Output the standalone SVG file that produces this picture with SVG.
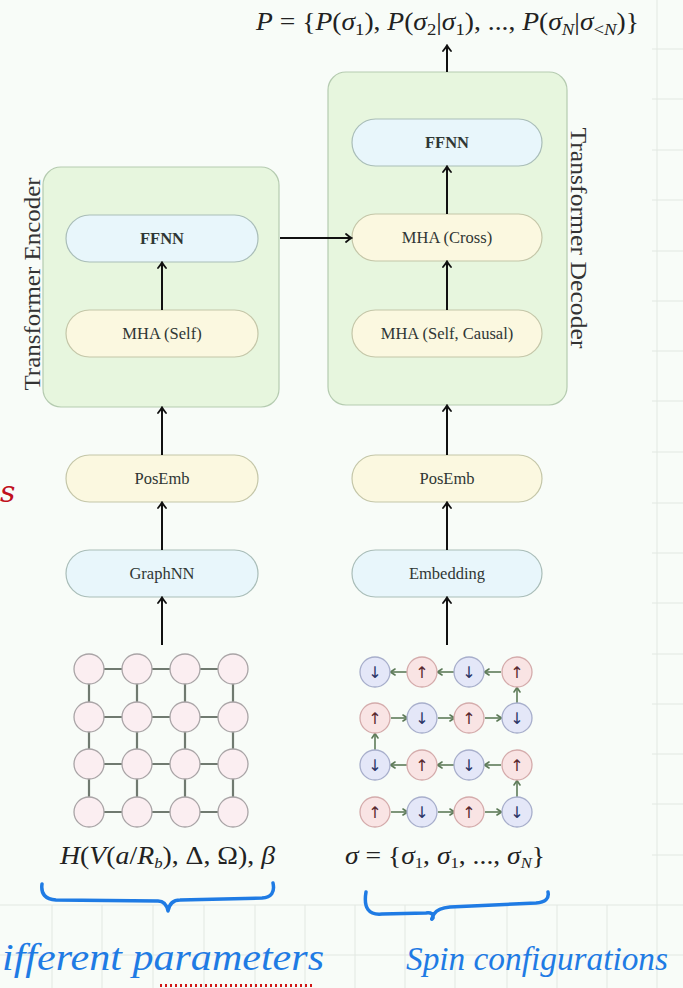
<svg xmlns="http://www.w3.org/2000/svg" width="683" height="988" viewBox="0 0 683 988">
  <defs>
    <marker id="ah" viewBox="-6 -5 8 10" markerWidth="8" markerHeight="10" refX="0" refY="0" orient="auto" markerUnits="userSpaceOnUse">
      <path d="M -5 -4 Q -1.5 -1 0.5 0 Q -1.5 1 -5 4" fill="none" stroke="#111" stroke-width="1.8" stroke-linecap="round"/>
    </marker>
    <marker id="sh" viewBox="-5 -4 6 8" markerWidth="6" markerHeight="8" refX="0" refY="0" orient="auto" markerUnits="userSpaceOnUse">
      <path d="M -4 -3 L 0.5 0 L -4 3" fill="none" stroke="#5d7a58" stroke-width="1.6" stroke-linecap="round" stroke-linejoin="round"/>
    </marker>
  </defs>
  <style>
    .bg { fill: #f8fcf8; }
    .grid { stroke: #e2e8e2; stroke-width: 1; }
    .outer { fill: #e7f6de; stroke: #b5cbb0; stroke-width: 1.2; }
    .cyan { fill: #e8f6fb; stroke: #a9bdb8; stroke-width: 1.2; }
    .yellow { fill: #fbf8e0; stroke: #c4c6a8; stroke-width: 1.2; }
    .lbl { font-family: "Liberation Serif", serif; font-size: 16.5px; fill: #2f3634; text-anchor: middle; }
    .bold { font-weight: bold; }
    .side { font-family: "Liberation Serif", serif; font-size: 23px; fill: #333; text-anchor: middle; }
    .math { font-family: "Liberation Serif", serif; font-size: 25px; fill: #222; }
    .it { font-style: italic; }
    .conn { stroke: #111; stroke-width: 2; fill: none; marker-end: url(#ah); }
    .edge { stroke: #707a70; stroke-width: 2.2; }
    .site { fill: #fbeef1; stroke: #a9a4a6; stroke-width: 1.3; }
    .up { fill: #f9e4e4; stroke: #d4abab; stroke-width: 1.3; }
    .dn { fill: #e4e7f8; stroke: #a7aecb; stroke-width: 1.3; }
    .spin { font-family: "DejaVu Sans", sans-serif; font-size: 16px; text-anchor: middle; }
    .sl { stroke: #5d7a58; stroke-width: 1.6; fill: none; marker-end: url(#sh); }
    .ink { stroke: #1f7be4; stroke-width: 3.5; fill: none; stroke-linecap: round; stroke-linejoin: round; }
    .hand { font-family: "Liberation Serif", serif; font-style: italic; fill: #1f7be4; }
  </style>

  <!-- paper background with faint squared grid -->
  <rect class="bg" x="0" y="0" width="683" height="988"/>
  <g id="paper-grid">
    <line class="grid" x1="657" y1="0" x2="657" y2="988"/>
    <line class="grid" x1="652" y1="49" x2="683" y2="49"/>
    <line class="grid" x1="652" y1="99" x2="683" y2="99"/>
    <line class="grid" x1="652" y1="150" x2="683" y2="150"/>
    <line class="grid" x1="652" y1="200" x2="683" y2="200"/>
    <line class="grid" x1="652" y1="251" x2="683" y2="251"/>
    <line class="grid" x1="652" y1="301" x2="683" y2="301"/>
    <line class="grid" x1="652" y1="351" x2="683" y2="351"/>
    <line class="grid" x1="652" y1="401" x2="683" y2="401"/>
    <line class="grid" x1="652" y1="452" x2="683" y2="452"/>
    <line class="grid" x1="652" y1="503" x2="683" y2="503"/>
    <line class="grid" x1="652" y1="553" x2="683" y2="553"/>
    <line class="grid" x1="652" y1="603" x2="683" y2="603"/>
    <line class="grid" x1="652" y1="654" x2="683" y2="654"/>
    <line class="grid" x1="652" y1="704" x2="683" y2="704"/>
    <line class="grid" x1="652" y1="754" x2="683" y2="754"/>
    <line class="grid" x1="652" y1="804" x2="683" y2="804"/>
    <line class="grid" x1="652" y1="855" x2="683" y2="855"/>
    <line class="grid" x1="0" y1="905" x2="683" y2="905"/>
    <line class="grid" x1="0" y1="955" x2="683" y2="955"/>
    <line class="grid" x1="52" y1="905" x2="52" y2="988"/>
    <line class="grid" x1="102" y1="905" x2="102" y2="988"/>
    <line class="grid" x1="153" y1="905" x2="153" y2="988"/>
    <line class="grid" x1="204" y1="905" x2="204" y2="988"/>
    <line class="grid" x1="255" y1="905" x2="255" y2="988"/>
    <line class="grid" x1="305" y1="905" x2="305" y2="988"/>
    <line class="grid" x1="355" y1="905" x2="355" y2="988"/>
    <line class="grid" x1="405" y1="905" x2="405" y2="988"/>
    <line class="grid" x1="455" y1="905" x2="455" y2="988"/>
    <line class="grid" x1="507" y1="905" x2="507" y2="988"/>
    <line class="grid" x1="557" y1="905" x2="557" y2="988"/>
    <line class="grid" x1="607" y1="905" x2="607" y2="988"/>
  </g>

  <!-- output distribution -->
  <g id="output">
    <text class="math" x="256" y="30" textLength="383" lengthAdjust="spacingAndGlyphs"><tspan class="it">P</tspan> = {<tspan class="it">P</tspan>(<tspan class="it">σ</tspan><tspan font-size="17" dy="5">1</tspan><tspan dy="-5">), </tspan><tspan class="it">P</tspan>(<tspan class="it">σ</tspan><tspan font-size="17" dy="5">2</tspan><tspan dy="-5">|</tspan><tspan class="it">σ</tspan><tspan font-size="17" dy="5">1</tspan><tspan dy="-5">), ..., </tspan><tspan class="it">P</tspan>(<tspan class="it">σ</tspan><tspan font-size="17" dy="5" class="it">N</tspan><tspan dy="-5">|</tspan><tspan class="it">σ</tspan><tspan font-size="17" dy="5">&lt;</tspan><tspan font-size="17" class="it">N</tspan><tspan dy="-5">)}</tspan></text>
  </g>

  <!-- encoder stack -->
  <g id="encoder">
    <rect class="outer" x="43" y="167" width="236" height="240" rx="18"/>
    <text class="side" transform="translate(40 284) rotate(-90)" textLength="213" lengthAdjust="spacingAndGlyphs">Transformer Encoder</text>
  </g>
  <g id="enc-ffnn">
    <rect class="cyan" x="66" y="215" width="192" height="47" rx="23.5"/>
    <text class="lbl bold" x="162" y="244">FFNN</text>
  </g>
  <g id="enc-mha">
    <rect class="yellow" x="66" y="310" width="192" height="47" rx="23.5"/>
    <text class="lbl" x="162" y="339">MHA (Self)</text>
  </g>

  <!-- decoder stack -->
  <g id="decoder">
    <rect class="outer" x="328" y="72" width="239" height="333" rx="18"/>
    <text class="side" transform="translate(571 238) rotate(90)" textLength="221" lengthAdjust="spacingAndGlyphs">Transformer Decoder</text>
  </g>
  <g id="dec-ffnn">
    <rect class="cyan" x="352" y="119" width="190" height="47" rx="23.5"/>
    <text class="lbl bold" x="447" y="148">FFNN</text>
  </g>
  <g id="dec-cross">
    <rect class="yellow" x="352" y="214" width="190" height="47" rx="23.5"/>
    <text class="lbl" x="447" y="243">MHA (Cross)</text>
  </g>
  <g id="dec-self">
    <rect class="yellow" x="352" y="310" width="190" height="47" rx="23.5"/>
    <text class="lbl" x="447" y="339">MHA (Self, Causal)</text>
  </g>

  <!-- input embeddings -->
  <g id="enc-posemb">
    <rect class="yellow" x="66" y="455" width="192" height="47" rx="23.5"/>
    <text class="lbl" x="162" y="484">PosEmb</text>
  </g>
  <g id="graphnn">
    <rect class="cyan" x="66" y="550" width="192" height="47" rx="23.5"/>
    <text class="lbl" x="162" y="579">GraphNN</text>
  </g>
  <g id="dec-posemb">
    <rect class="yellow" x="352" y="455" width="190" height="47" rx="23.5"/>
    <text class="lbl" x="447" y="484">PosEmb</text>
  </g>
  <g id="embedding">
    <rect class="cyan" x="352" y="550" width="190" height="47" rx="23.5"/>
    <text class="lbl" x="447" y="579">Embedding</text>
  </g>

  <!-- connectors -->
  <g id="connectors">
    <line class="conn" x1="447" y1="72" x2="447" y2="46"/>
    <line class="conn" x1="447" y1="214" x2="447" y2="167"/>
    <line class="conn" x1="447" y1="310" x2="447" y2="262"/>
    <line class="conn" x1="447" y1="455" x2="447" y2="406"/>
    <line class="conn" x1="447" y1="550" x2="447" y2="503"/>
    <line class="conn" x1="447" y1="645" x2="447" y2="598"/>
    <line class="conn" x1="162" y1="310" x2="162" y2="263"/>
    <line class="conn" x1="162" y1="455" x2="162" y2="408"/>
    <line class="conn" x1="162" y1="550" x2="162" y2="503"/>
    <line class="conn" x1="162" y1="645" x2="162" y2="598"/>
    <line class="conn" x1="280" y1="238" x2="351" y2="238"/>
  </g>

  <!-- 4x4 interaction lattice -->
  <g id="lattice">
    <g class="edge">
      <line x1="89" y1="669" x2="233" y2="669"/>
      <line x1="89" y1="717" x2="233" y2="717"/>
      <line x1="89" y1="764" x2="233" y2="764"/>
      <line x1="89" y1="812" x2="233" y2="812"/>
      <line x1="89" y1="669" x2="89" y2="812"/>
      <line x1="137" y1="669" x2="137" y2="812"/>
      <line x1="185" y1="669" x2="185" y2="812"/>
      <line x1="233" y1="669" x2="233" y2="812"/>
    </g>
    <g>
      <circle class="site" cx="89" cy="669" r="15"/><circle class="site" cx="137" cy="669" r="15"/><circle class="site" cx="185" cy="669" r="15"/><circle class="site" cx="233" cy="669" r="15"/>
      <circle class="site" cx="89" cy="717" r="15"/><circle class="site" cx="137" cy="717" r="15"/><circle class="site" cx="185" cy="717" r="15"/><circle class="site" cx="233" cy="717" r="15"/>
      <circle class="site" cx="89" cy="764" r="15"/><circle class="site" cx="137" cy="764" r="15"/><circle class="site" cx="185" cy="764" r="15"/><circle class="site" cx="233" cy="764" r="15"/>
      <circle class="site" cx="89" cy="812" r="15"/><circle class="site" cx="137" cy="812" r="15"/><circle class="site" cx="185" cy="812" r="15"/><circle class="site" cx="233" cy="812" r="15"/>
    </g>
  </g>

  <!-- snake-ordered spin configuration -->
  <g id="spins">
    <g>
      <line class="sl" x1="407" y1="672" x2="391" y2="672"/>
      <line class="sl" x1="454" y1="672" x2="438" y2="672"/>
      <line class="sl" x1="501" y1="672" x2="485" y2="672"/>
      <line class="sl" x1="517" y1="703" x2="517" y2="688"/>
      <line class="sl" x1="391" y1="718" x2="407" y2="718"/>
      <line class="sl" x1="438" y1="718" x2="454" y2="718"/>
      <line class="sl" x1="485" y1="718" x2="501" y2="718"/>
      <line class="sl" x1="375" y1="750" x2="375" y2="734"/>
      <line class="sl" x1="407" y1="765" x2="391" y2="765"/>
      <line class="sl" x1="454" y1="765" x2="438" y2="765"/>
      <line class="sl" x1="501" y1="765" x2="485" y2="765"/>
      <line class="sl" x1="517" y1="797" x2="517" y2="781"/>
      <line class="sl" x1="391" y1="812" x2="407" y2="812"/>
      <line class="sl" x1="438" y1="812" x2="454" y2="812"/>
      <line class="sl" x1="485" y1="812" x2="501" y2="812"/>
    </g>
    <g>
      <circle class="dn" cx="375" cy="672" r="15"/><circle class="up" cx="422" cy="672" r="15"/><circle class="dn" cx="469" cy="672" r="15"/><circle class="up" cx="517" cy="672" r="15"/>
      <circle class="up" cx="375" cy="718" r="15"/><circle class="dn" cx="422" cy="718" r="15"/><circle class="up" cx="469" cy="718" r="15"/><circle class="dn" cx="517" cy="718" r="15"/>
      <circle class="dn" cx="375" cy="765" r="15"/><circle class="up" cx="422" cy="765" r="15"/><circle class="dn" cx="469" cy="765" r="15"/><circle class="up" cx="517" cy="765" r="15"/>
      <circle class="up" cx="375" cy="812" r="15"/><circle class="dn" cx="422" cy="812" r="15"/><circle class="up" cx="469" cy="812" r="15"/><circle class="dn" cx="517" cy="812" r="15"/>
    </g>
    <g class="spin">
      <text x="375" y="678" fill="#2b3566">↓</text><text x="422" y="678" fill="#5a2a30">↑</text><text x="469" y="678" fill="#2b3566">↓</text><text x="517" y="678" fill="#5a2a30">↑</text>
      <text x="375" y="724" fill="#5a2a30">↑</text><text x="422" y="724" fill="#2b3566">↓</text><text x="469" y="724" fill="#5a2a30">↑</text><text x="517" y="724" fill="#2b3566">↓</text>
      <text x="375" y="771" fill="#2b3566">↓</text><text x="422" y="771" fill="#5a2a30">↑</text><text x="469" y="771" fill="#2b3566">↓</text><text x="517" y="771" fill="#5a2a30">↑</text>
      <text x="375" y="818" fill="#5a2a30">↑</text><text x="422" y="818" fill="#2b3566">↓</text><text x="469" y="818" fill="#5a2a30">↑</text><text x="517" y="818" fill="#2b3566">↓</text>
    </g>
  </g>

  <!-- input captions -->
  <g id="label-h">
    <text class="math" x="60" y="864" font-size="22" textLength="215" lengthAdjust="spacingAndGlyphs"><tspan class="it">H</tspan>(<tspan class="it">V</tspan>(<tspan class="it">a</tspan>/<tspan class="it">R</tspan><tspan font-size="15" dy="4" class="it">b</tspan><tspan dy="-4">), Δ, Ω), </tspan><tspan class="it">β</tspan></text>
  </g>
  <g id="label-sigma">
    <text class="math" x="345" y="864" font-size="22" textLength="200" lengthAdjust="spacingAndGlyphs"><tspan class="it">σ</tspan> = {<tspan class="it">σ</tspan><tspan font-size="15" dy="4">1</tspan><tspan dy="-4">, </tspan><tspan class="it">σ</tspan><tspan font-size="15" dy="4">1</tspan><tspan dy="-4">, ..., </tspan><tspan class="it">σ</tspan><tspan font-size="15" dy="4" class="it">N</tspan><tspan dy="-4">}</tspan></text>
  </g>

  <!-- handwritten annotations -->
  <g id="annotations">
    <path class="ink" d="M 42 884 Q 40 899 56 900 L 158 901 Q 166 901 168 911 Q 170 900 180 900 L 262 898 Q 276 897 273 883"/>
    <path class="ink" d="M 366 892 Q 362 916 382 914 L 426 913 Q 434 912 433 918 Q 430 922 434 914 Q 438 908 450 907 L 536 903 Q 550 902 548 892"/>
    <text class="hand" x="2" y="970" font-size="38" textLength="322" lengthAdjust="spacingAndGlyphs">ifferent parameters</text>
    <text class="hand" x="406" y="970" font-size="34" textLength="262" lengthAdjust="spacingAndGlyphs">Spin configurations</text>
    <text x="0" y="502" font-family="DejaVu Serif, serif" font-style="italic" font-size="30" fill="#c0101c">s</text>
    <line x1="160" y1="985.5" x2="313" y2="985.5" stroke="#d01818" stroke-width="3" stroke-dasharray="2 3"/>
  </g>
</svg>
